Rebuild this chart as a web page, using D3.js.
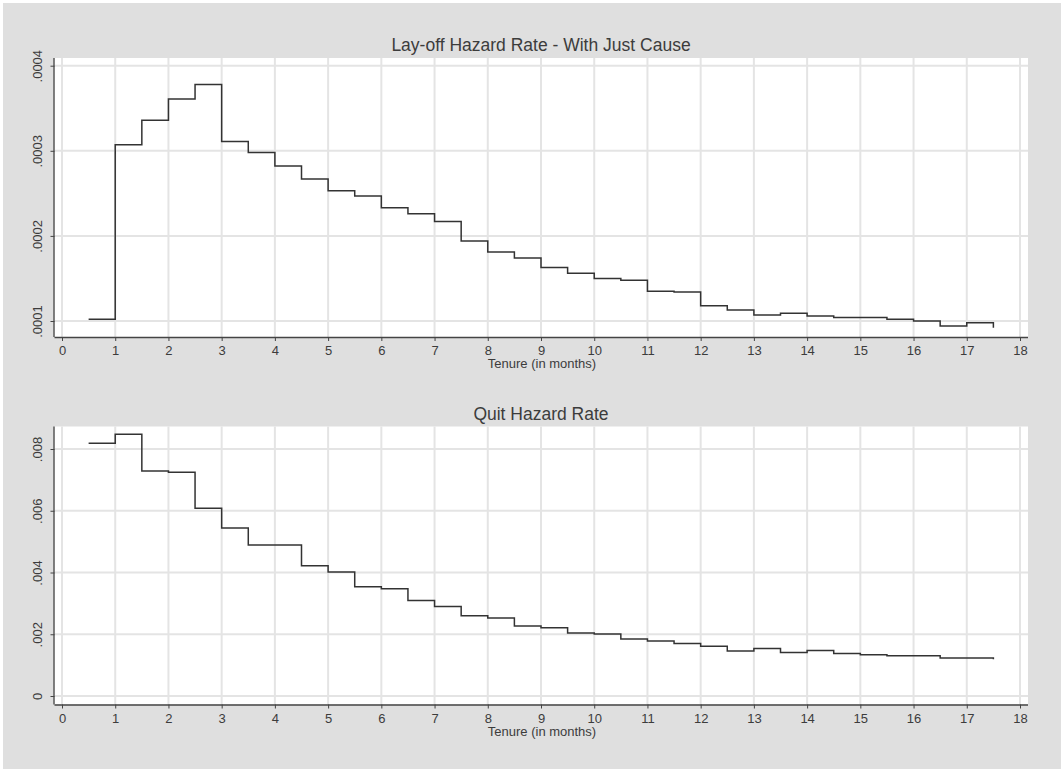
<!DOCTYPE html>
<html>
<head>
<meta charset="utf-8">
<script src="https://cdn.jsdelivr.net/npm/d3@7"></script>
<style>
  html, body { margin: 0; padding: 0; background: #ffffff; }
  svg { display: block; font-family: "Liberation Sans", Arial, sans-serif; }
</style>
</head>
<body>
<svg id="chart" width="1061" height="769"></svg>
<script>
// ---- data ----
const tenure = [0.5,1,1.5,2,2.5,3,3.5,4,4.5,5,5.5,6,6.5,7,7.5,8,8.5,9,9.5,10,10.5,11,11.5,12,12.5,13,13.5,14,14.5,15,15.5,16,16.5,17,17.5];
const layoffRate = [0.000102,0.000307,0.000336,0.000361,0.000378,0.000311,0.000298,0.000282,0.000267,0.000253,0.000247,0.000233,0.000226,0.000217,0.000194,0.000181,0.000174,0.000163,0.000156,0.000150,0.000148,0.000135,0.000134,0.000118,0.000113,0.000107,0.000109,0.000106,0.000104,0.000104,0.000102,0.000100,0.000094,0.000098,0.000092];
const quitRate = [0.00819,0.00848,0.00729,0.00725,0.00608,0.00544,0.00489,0.00489,0.00422,0.00402,0.00354,0.00347,0.00309,0.00290,0.00260,0.00253,0.00227,0.00221,0.00204,0.00201,0.00185,0.00178,0.00170,0.00161,0.00146,0.00154,0.00141,0.00147,0.00138,0.00134,0.00130,0.00130,0.00123,0.00123,0.00119];
const xTicks = d3.range(0, 19, 1);
const layoffTicks = [0.0001, 0.0002, 0.0003, 0.0004];
const quitTicks = [0, 0.002, 0.004, 0.006, 0.008];
const layoffTickLabels = [".0001", ".0002", ".0003", ".0004"];
const quitTickLabels = ["0", ".002", ".004", ".006", ".008"];
const titles = ["Lay-off Hazard Rate - With Just Cause", "Quit Hazard Rate"];
const xTitle = "Tenure (in months)";

// ---- drawing ----
const svg = d3.select("#chart");
svg.append("rect").attr("x", 3).attr("y", 3).attr("width", 1058).attr("height", 766).attr("fill", "#dfdfdf");

const x = d3.scaleLinear().domain([0, 18]).range([62, 1020]);

const panels = [
  { title: titles[0], vals: layoffRate, ticks: layoffTicks, labels: layoffTickLabels,
    y: d3.scaleLinear().domain([0.0001, 0.0004]).range([321, 65.7]),
    top: 58, bottom: 337, titleY: 50.5 },
  { title: titles[1], vals: quitRate, ticks: quitTicks, labels: quitTickLabels,
    y: d3.scaleLinear().domain([0, 0.008]).range([696, 449]),
    top: 426.5, bottom: 704.5, titleY: 419.5 }
];

const left = 54.5, right = 1028;

panels.forEach(p => {
  const g = svg.append("g");
  // plot area
  g.append("rect").attr("x", left).attr("y", p.top).attr("width", right - left).attr("height", p.bottom - p.top).attr("fill", "#ffffff");
  // grid
  g.selectAll(".vg").data(xTicks).enter().append("line")
    .attr("x1", d => x(d)).attr("x2", d => x(d)).attr("y1", p.top).attr("y2", p.bottom)
    .attr("stroke", "#e4e4e4").attr("stroke-width", 2);
  g.selectAll(".hg").data(p.ticks).enter().append("line")
    .attr("x1", left).attr("x2", right).attr("y1", d => p.y(d)).attr("y2", d => p.y(d))
    .attr("stroke", "#e4e4e4").attr("stroke-width", 2);

  // x axis
  const xa = g.append("g").attr("transform", `translate(0,${p.bottom})`)
    .call(d3.axisBottom(x).tickValues(xTicks).tickSize(4).tickPadding(5).tickSizeOuter(0));
  xa.select(".domain").attr("d", `M${left},0.5H${right}`).attr("stroke", "#444").attr("stroke-width", 1.3);
  xa.selectAll(".tick line").attr("stroke", "#444");
  xa.selectAll(".tick text").attr("font-size", 13).attr("fill", "#3c3c3c").attr("font-family", "Liberation Sans, Arial, sans-serif");

  // y axis
  const ya = g.append("g").attr("transform", `translate(${left},0)`)
    .call(d3.axisLeft(p.y).tickValues(p.ticks).tickFormat((d, i) => p.labels[i]).tickSize(4).tickSizeOuter(0));
  ya.select(".domain").attr("d", `M-0.5,${p.top}V${p.bottom}`).attr("stroke", "#444").attr("stroke-width", 1.3);
  ya.selectAll(".tick line").attr("stroke", "#444");
  ya.selectAll(".tick text")
    .attr("font-size", 13).attr("fill", "#3c3c3c").attr("font-family", "Liberation Sans, Arial, sans-serif")
    .attr("x", null).attr("dy", null)
    .attr("text-anchor", "middle")
    .attr("transform", "translate(-17,0) rotate(-90)")
    .attr("y", 0).attr("dy", "0.35em");

  // step line
  const line = d3.line().x((d, i) => x(tenure[i])).y(d => p.y(d)).curve(d3.curveStepAfter);
  g.append("path").datum(p.vals).attr("d", line)
    .attr("fill", "none").attr("stroke", "#333").attr("stroke-width", 1.5);

  // titles
  g.append("text").attr("x", 541).attr("y", p.titleY).attr("text-anchor", "middle")
    .attr("font-size", 17.5).attr("fill", "#3c3c3c").text(p.title);
  g.append("text").attr("x", 542).attr("y", p.bottom + 31).attr("text-anchor", "middle")
    .attr("font-size", 13).attr("fill", "#3c3c3c").text(xTitle);
});
</script>
</body>
</html>
